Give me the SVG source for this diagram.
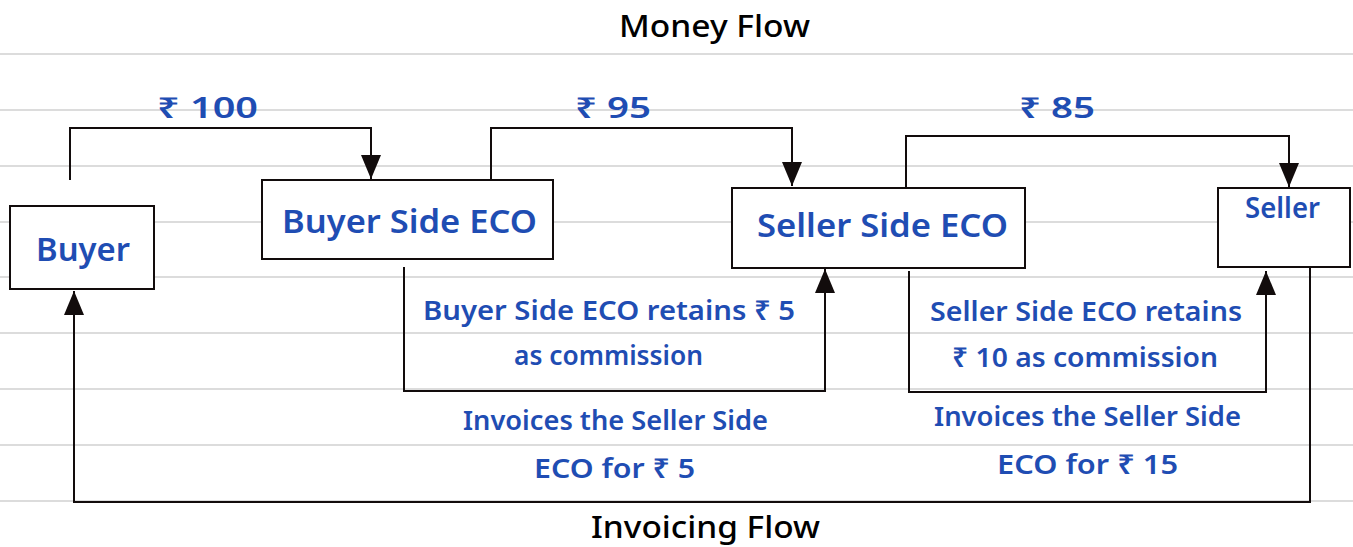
<svg xmlns="http://www.w3.org/2000/svg" width="1353" height="547" viewBox="0 0 1353 547">
  <defs>
    <marker id="ah" viewBox="0 0 24 20" refX="24" refY="10" markerWidth="24" markerHeight="20" markerUnits="userSpaceOnUse" orient="auto">
      <path d="M0,0 L24,10 L0,20 z" fill="#120c0c"/>
    </marker>
    <style>
      .rule { stroke: #dcdcdc; stroke-width: 2; }
      .box { fill: #ffffff; stroke: #120c0c; stroke-width: 2; }
      .wire { fill: none; stroke: #120c0c; stroke-width: 2; marker-end: url(#ah); }
      .title { font-family: "Noto Sans", "DejaVu Sans", sans-serif; font-size: 30px; font-weight: 500; fill: #000000; text-anchor: middle; }
      .lbl { font-family: "Noto Sans", "DejaVu Sans", sans-serif; font-weight: 600; fill: #1f4db3; text-anchor: middle; }
      .amt { font-size: 28px; }
      .big { font-size: 32px; }
      .note { font-size: 27px; }
    </style>
  </defs>

  <rect width="1353" height="547" fill="#ffffff"/>

  <!-- ruled paper -->
  <g id="paper">
    <line class="rule" x1="0" y1="54" x2="1353" y2="54"/>
    <line class="rule" x1="0" y1="110" x2="1353" y2="110"/>
    <line class="rule" x1="0" y1="166" x2="1353" y2="166"/>
    <line class="rule" x1="0" y1="222" x2="1353" y2="222"/>
    <line class="rule" x1="0" y1="277" x2="1353" y2="277"/>
    <line class="rule" x1="0" y1="333" x2="1353" y2="333"/>
    <line class="rule" x1="0" y1="389" x2="1353" y2="389"/>
    <line class="rule" x1="0" y1="445" x2="1353" y2="445"/>
    <line class="rule" x1="0" y1="501" x2="1353" y2="501"/>
  </g>

  <text class="title" x="714.5" y="37" textLength="191" lengthAdjust="spacingAndGlyphs">Money Flow</text>
  <text class="title" x="705.5" y="538" textLength="229" lengthAdjust="spacingAndGlyphs">Invoicing Flow</text>

  <!-- connectors -->
  <g id="connectors">
    <path class="wire" d="M70,180 V128 H371 V179"/>
    <path class="wire" d="M491,179 V128 H792 V186"/>
    <path class="wire" d="M906,188 V136 H1289 V187"/>
    <path class="wire" d="M404,267 V391 H825 V269"/>
    <path class="wire" d="M909,271 V392 H1266 V271"/>
    <path class="wire" d="M1310,267 V502 H74 V291"/>
  </g>

  <!-- connector labels -->
  <g id="labels">
    <text class="lbl amt" x="207.5" y="118" textLength="101" lengthAdjust="spacingAndGlyphs">₹ 100</text>
    <text class="lbl amt" x="613" y="118" textLength="76" lengthAdjust="spacingAndGlyphs">₹ 95</text>
    <text class="lbl amt" x="1057" y="118" textLength="76" lengthAdjust="spacingAndGlyphs">₹ 85</text>
    <text class="lbl note" x="609" y="320" textLength="372" lengthAdjust="spacingAndGlyphs">Buyer Side ECO retains ₹ 5</text>
    <text class="lbl note" x="608.5" y="365" textLength="189" lengthAdjust="spacingAndGlyphs">as commission</text>
    <text class="lbl note" x="615.5" y="430" textLength="305" lengthAdjust="spacingAndGlyphs">Invoices the Seller Side</text>
    <text class="lbl note" x="614.5" y="478" textLength="161" lengthAdjust="spacingAndGlyphs">ECO for ₹ 5</text>
    <text class="lbl note" x="1086" y="321" textLength="312" lengthAdjust="spacingAndGlyphs">Seller Side ECO retains</text>
    <text class="lbl note" x="1085" y="367" textLength="266" lengthAdjust="spacingAndGlyphs">₹ 10 as commission</text>
    <text class="lbl note" x="1087.5" y="426" textLength="307" lengthAdjust="spacingAndGlyphs">Invoices the Seller Side</text>
    <text class="lbl note" x="1087.5" y="474" textLength="181" lengthAdjust="spacingAndGlyphs">ECO for ₹ 15</text>
  </g>

  <!-- nodes -->
  <g id="buyer">
    <rect class="box" x="10" y="206" width="144" height="83"/>
    <text class="lbl big" x="83" y="261" textLength="94" lengthAdjust="spacingAndGlyphs">Buyer</text>
  </g>
  <g id="buyer-side-eco">
    <rect class="box" x="262" y="180" width="291" height="79"/>
    <text class="lbl big" x="409.5" y="233" textLength="255" lengthAdjust="spacingAndGlyphs">Buyer Side ECO</text>
  </g>
  <g id="seller-side-eco">
    <rect class="box" x="732" y="188" width="293" height="80"/>
    <text class="lbl big" x="882.5" y="237" textLength="251" lengthAdjust="spacingAndGlyphs">Seller Side ECO</text>
  </g>
  <g id="seller">
    <rect class="box" x="1218" y="188" width="132" height="79"/>
    <text class="lbl amt" x="1282.5" y="218" textLength="75" lengthAdjust="spacingAndGlyphs">Seller</text>
  </g>
</svg>
